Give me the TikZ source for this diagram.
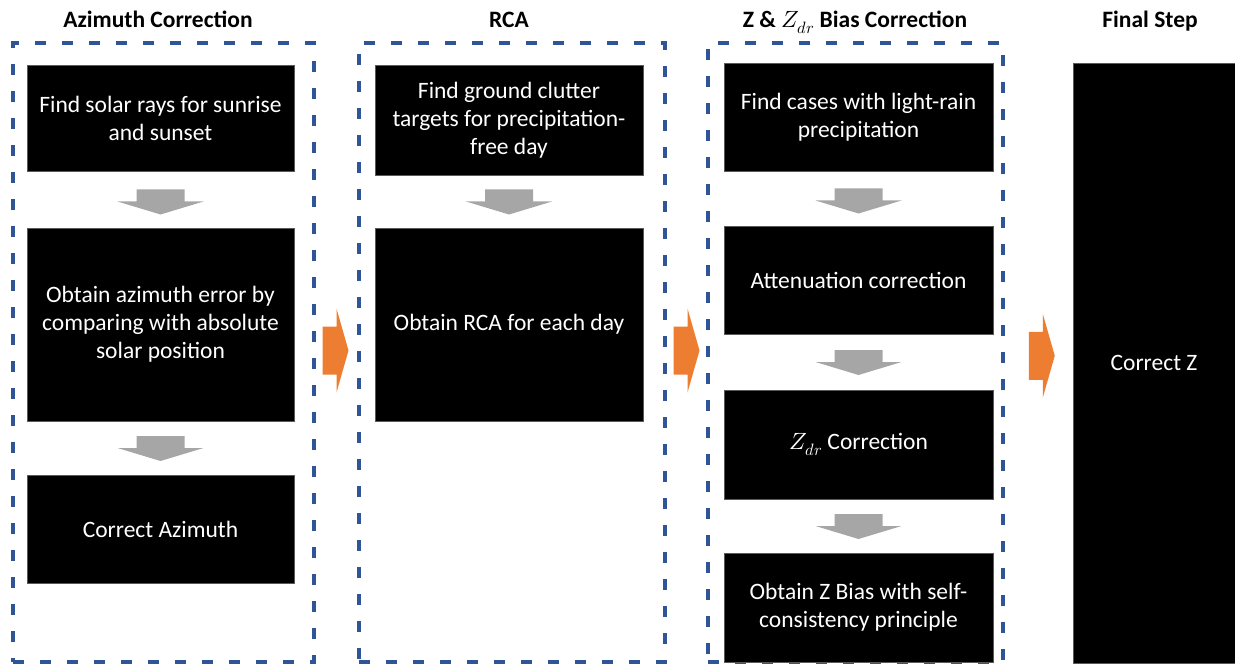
\documentclass[tikz,border=0pt]{standalone}
\usepackage{fontspec}
\usepackage{unicode-math}
\setmainfont{Carlito}
\usetikzlibrary{calc}
\definecolor{dashblue}{HTML}{2F5597}
\definecolor{arrgray}{HTML}{A6A6A6}
\definecolor{arrorange}{HTML}{ED7D31}
\definecolor{edgegray}{HTML}{5A5A5A}
\tikzset{
  blk/.style={fill=black, draw=edgegray, line width=0.5pt, text=white, align=center, inner sep=0pt,
    font=\fontsize{23.5}{28}\selectfont},
  grp/.style={draw=dashblue, line width=3.5pt, dash pattern=on 11pt off 16pt, inner sep=0pt},
  ttl/.style={font=\bfseries\fontsize{23.5}{28}\selectfont, anchor=base},
  downarr/.pic={\fill[arrgray] (-24,-12) -- (24,-12) -- (24,0) -- (43,0) -- (0,13) -- (-43,0) -- (-24,0) -- cycle;},
  rightarr/.pic={\fill[arrorange] (-13,-24) -- (1,-24) -- (1,-42) -- (13,0) -- (1,42) -- (1,24) -- (-13,24) -- cycle;}
}
\begin{document}
\begin{tikzpicture}[x=1pt,y=-1pt]
\useasboundingbox (0,0) rectangle (1235,666);
% titles
\node[ttl] (t1) at (158,28) {Azimuth Correction};
\node[ttl] (t2) at (509,28) {RCA};
\node[ttl] (t3) at (855,28) {Z \& $Z_{dr}$ Bias Correction};
\node[ttl] (t4) at (1150,28) {Final Step};
% dashed groups
\node[grp, minimum width=301pt, minimum height=619pt] (g1) at (163.5,352.5) {};
\node[grp, minimum width=306pt, minimum height=619pt] (g2) at (512,352.5) {};
\node[grp, minimum width=295pt, minimum height=619pt] (g3) at (855.5,352.5) {};
% column 1
\node[blk, minimum width=267pt, minimum height=106pt] (a1) at (160.5,118) {Find solar rays for sunrise\\and sunset};
\node[blk, minimum width=267pt, minimum height=193pt] (a2) at (160.5,324.5) {Obtain azimuth error by\\comparing with absolute\\solar position};
\node[blk, minimum width=267pt, minimum height=108pt] (a3) at (160.5,529) {Correct Azimuth};
% column 2
\node[blk, minimum width=268pt, minimum height=110pt] (b1) at (509,120) {Find ground clutter\\targets for precipitation-\\free day};
\node[blk, minimum width=268pt, minimum height=193pt] (b2) at (509,324.5) {Obtain RCA for each day};
% column 3
\node[blk, minimum width=269pt, minimum height=108pt] (c1) at (858.5,117) {Find cases with light-rain\\precipitation};
\node[blk, minimum width=269pt, minimum height=108pt] (c2) at (858.5,280) {Attenuation correction};
\node[blk, minimum width=269pt, minimum height=109pt] (c3) at (858.5,444.5) {$Z_{dr}$ Correction};
\node[blk, minimum width=269pt, minimum height=109pt] (c4) at (858.5,607.5) {Obtain Z Bias with self-\\consistency principle};
% column 4
\node[blk, minimum width=162pt, minimum height=600pt] (d) at (1154,363) {Correct Z};
% gray down arrows
\path (a1.south) -- (a2.north) coordinate[midway] (ma1);
\path (a2.south) -- (a3.north) coordinate[midway] (ma2);
\path (b1.south) -- (b2.north) coordinate[midway] (mb1);
\path (c1.south) -- (c2.north) coordinate[midway] (mc1);
\path (c2.south) -- (c3.north) coordinate[midway] (mc2);
\path (c3.south) -- (c4.north) coordinate[midway] (mc3);
\pic at ($(ma1)+(0,2)$) {downarr};
\pic at ($(ma2)+(0,0)$) {downarr};
\pic at ($(mb1)+(0,0)$) {downarr};
\pic at ($(mc1)+(0,2)$) {downarr};
\pic at ($(mc2)+(0,0)$) {downarr};
\pic at ($(mc3)+(0,0)$) {downarr};
% orange right arrows
\path (g1.east) -- (g2.west) coordinate[midway] (mo1);
\path (g2.east) -- (g3.west) coordinate[midway] (mo2);
\path (g3.east) -- (d.west) coordinate[midway] (mo3);
\pic at ($(mo1)+(-1,-2)$) {rightarr};
\pic at ($(mo2)+(0,-2)$) {rightarr};
\pic at ($(mo3)+(3,-2)$) {rightarr};
\end{tikzpicture}
\end{document}
